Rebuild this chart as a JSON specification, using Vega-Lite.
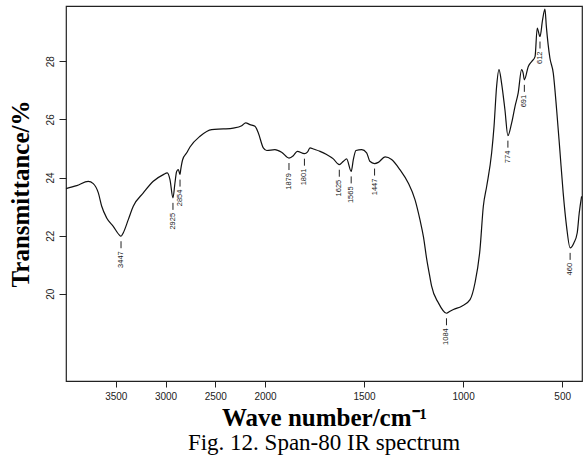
{
  "$schema": "https://vega.github.io/schema/vega-lite/v6.json",
  "width": 516,
  "height": 375,
  "autosize": "none",
  "padding": {"left": 66, "top": 6, "right": 1, "bottom": 80},
  "background": "white",
  "title": {"text": "Fig. 12. Span-80 IR spectrum", "orient": "bottom", "font": "Liberation Serif", "fontSize": 23, "fontWeight": "normal", "color": "black", "offset": 2, "anchor": "middle"},
  "config": {
    "view": {"stroke": "#222", "strokeWidth": 1.2},
    "axis": {"domain": false, "grid": false, "labelFont": "Liberation Sans", "labelFontSize": 10, "labelColor": "#222", "tickColor": "#222", "titleFont": "Liberation Serif", "titleFontSize": 25, "titleFontWeight": "bold", "titleColor": "black"}
  },
  "datasets": {
    "spectrum": [
      {"wn": 4000, "t": 23.62}, {"wn": 3892, "t": 23.72}, {"wn": 3776, "t": 23.87}, {"wn": 3726, "t": 23.79},
      {"wn": 3675, "t": 23.47}, {"wn": 3641, "t": 23.01}, {"wn": 3591, "t": 22.61}, {"wn": 3525, "t": 22.32},
      {"wn": 3457, "t": 22.0}, {"wn": 3447, "t": 21.98}, {"wn": 3424, "t": 22.1}, {"wn": 3374, "t": 22.55},
      {"wn": 3324, "t": 23.01}, {"wn": 3223, "t": 23.47}, {"wn": 3123, "t": 23.87}, {"wn": 3022, "t": 24.1},
      {"wn": 2982, "t": 24.16}, {"wn": 2955, "t": 23.93}, {"wn": 2925, "t": 23.3}, {"wn": 2905, "t": 23.81},
      {"wn": 2888, "t": 24.21}, {"wn": 2871, "t": 24.27}, {"wn": 2854, "t": 24.1}, {"wn": 2847, "t": 24.27},
      {"wn": 2827, "t": 24.62}, {"wn": 2787, "t": 24.85}, {"wn": 2754, "t": 25.05}, {"wn": 2653, "t": 25.42},
      {"wn": 2536, "t": 25.65}, {"wn": 2419, "t": 25.67}, {"wn": 2319, "t": 25.7}, {"wn": 2234, "t": 25.78},
      {"wn": 2194, "t": 25.88}, {"wn": 2151, "t": 25.82}, {"wn": 2101, "t": 25.76}, {"wn": 2067, "t": 25.53},
      {"wn": 2017, "t": 25.02}, {"wn": 1991, "t": 24.93}, {"wn": 1950, "t": 24.96}, {"wn": 1916, "t": 24.87},
      {"wn": 1879, "t": 24.67}, {"wn": 1857, "t": 24.75}, {"wn": 1837, "t": 24.9}, {"wn": 1801, "t": 24.82},
      {"wn": 1785, "t": 24.88}, {"wn": 1773, "t": 25.02}, {"wn": 1756, "t": 24.98}, {"wn": 1722, "t": 24.9},
      {"wn": 1689, "t": 24.79}, {"wn": 1655, "t": 24.64}, {"wn": 1625, "t": 24.44}, {"wn": 1604, "t": 24.56},
      {"wn": 1588, "t": 24.64}, {"wn": 1565, "t": 24.21}, {"wn": 1554, "t": 24.62}, {"wn": 1541, "t": 24.93},
      {"wn": 1512, "t": 24.96}, {"wn": 1487, "t": 24.85}, {"wn": 1471, "t": 24.56}, {"wn": 1447, "t": 24.48},
      {"wn": 1428, "t": 24.52}, {"wn": 1394, "t": 24.71}, {"wn": 1361, "t": 24.62}, {"wn": 1319, "t": 24.27},
      {"wn": 1277, "t": 23.81}, {"wn": 1243, "t": 23.24}, {"wn": 1218, "t": 22.55}, {"wn": 1200, "t": 21.95},
      {"wn": 1184, "t": 21.2}, {"wn": 1167, "t": 20.55}, {"wn": 1159, "t": 20.26}, {"wn": 1125, "t": 19.69},
      {"wn": 1084, "t": 19.33}, {"wn": 1066, "t": 19.4}, {"wn": 1049, "t": 19.46}, {"wn": 1007, "t": 19.57},
      {"wn": 965, "t": 19.8}, {"wn": 940, "t": 20.38}, {"wn": 915, "t": 21.52}, {"wn": 898, "t": 23.01},
      {"wn": 881, "t": 23.7}, {"wn": 856, "t": 24.85}, {"wn": 844, "t": 25.76}, {"wn": 831, "t": 27.13},
      {"wn": 819, "t": 27.71}, {"wn": 806, "t": 27.25}, {"wn": 789, "t": 26.33}, {"wn": 774, "t": 25.44},
      {"wn": 755, "t": 25.88}, {"wn": 738, "t": 26.45}, {"wn": 722, "t": 26.91}, {"wn": 705, "t": 27.71},
      {"wn": 697, "t": 27.59}, {"wn": 691, "t": 27.36}, {"wn": 671, "t": 27.82}, {"wn": 654, "t": 27.99},
      {"wn": 637, "t": 28.16}, {"wn": 626, "t": 29.14}, {"wn": 612, "t": 28.85}, {"wn": 599, "t": 29.42},
      {"wn": 587, "t": 29.79}, {"wn": 580, "t": 29.2}, {"wn": 562, "t": 28.11}, {"wn": 545, "t": 27.59},
      {"wn": 528, "t": 26.33}, {"wn": 512, "t": 24.96}, {"wn": 495, "t": 23.47}, {"wn": 478, "t": 22.32},
      {"wn": 460, "t": 21.58}, {"wn": 441, "t": 21.75}, {"wn": 424, "t": 22.1}, {"wn": 414, "t": 22.78},
      {"wn": 402, "t": 23.35}
    ],
    "peaks": [
      {"wn": 3447, "t": 21.98, "label": "3447"}, {"wn": 2925, "t": 23.3, "label": "2925"},
      {"wn": 2854, "t": 24.1, "label": "2854"}, {"wn": 1879, "t": 24.67, "label": "1879"},
      {"wn": 1801, "t": 24.82, "label": "1801"}, {"wn": 1625, "t": 24.44, "label": "1625"},
      {"wn": 1565, "t": 24.21, "label": "1565"}, {"wn": 1447, "t": 24.48, "label": "1447"},
      {"wn": 1084, "t": 19.33, "label": "1084"}, {"wn": 774, "t": 25.44, "label": "774"},
      {"wn": 691, "t": 27.36, "label": "691"}, {"wn": 612, "t": 28.85, "label": "612"},
      {"wn": 460, "t": 21.58, "label": "460"}
    ]
  },
  "encoding": {
    "x": {"field": "wn", "type": "quantitative",
      "scale": {"domain": [4000, 2000, 400], "range": [0, 199, 516], "zero": false, "nice": false},
      "axis": {"title": "Wave number/cm⁻¹", "values": [3500, 3000, 2500, 2000, 1500, 1000, 500], "format": "d", "tickSize": 6, "labelPadding": 4, "titlePadding": 4, "labelFlush": false}},
    "y": {"field": "t", "type": "quantitative",
      "scale": {"domain": [17, 29.9], "zero": false, "nice": false},
      "axis": {"title": "Transmittance/%", "values": [20, 22, 24, 26, 28], "format": "d", "tickSize": 7, "labelPadding": 4, "labelAngle": 270, "labelAlign": "center", "labelBaseline": "bottom", "titlePadding": 12}}
  },
  "layer": [
    {"data": {"name": "spectrum"}, "mark": {"type": "line", "color": "#111", "strokeWidth": 1.2, "interpolate": "monotone"}},
    {"data": {"name": "peaks"}, "mark": {"type": "rule", "color": "#222", "strokeWidth": 1, "yOffset": 5, "y2Offset": 12},
      "encoding": {"y2": {"field": "t"}}},
    {"data": {"name": "peaks"}, "mark": {"type": "text", "angle": 270, "align": "right", "baseline": "middle", "yOffset": 15, "font": "Liberation Sans", "fontSize": 7.5, "color": "#222"},
      "encoding": {"text": {"field": "label"}}}
  ]
}
